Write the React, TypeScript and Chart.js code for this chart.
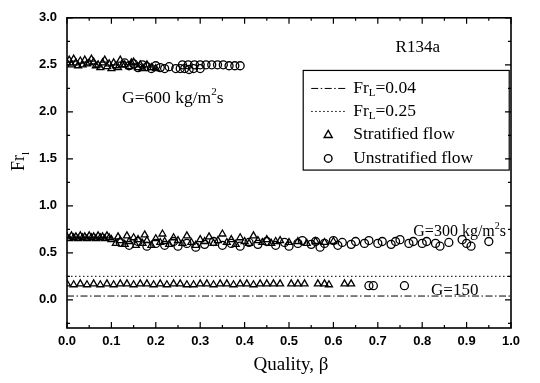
import React, { useEffect, useRef } from "react";
import { Chart, registerables } from "chart.js";
Chart.register(...registerables);

const xTicks = [0, 0.1, 0.2, 0.3, 0.4, 0.5, 0.6, 0.7, 0.8, 0.9, 1.0];
const yTicks = [0, 0.5, 1.0, 1.5, 2.0, 2.5, 3.0];
const frL1 = 0.04;
const frL2 = 0.25;

const g600Stratified = [
  [0.0, 2.52], [0.005, 2.55], [0.01, 2.5], [0.015, 2.56], [0.02, 2.52], [0.025, 2.49], [0.03, 2.54], [0.035, 2.5],
  [0.04, 2.55], [0.045, 2.51], [0.05, 2.52], [0.055, 2.56], [0.06, 2.53], [0.065, 2.49], [0.07, 2.5], [0.075, 2.47], [0.08, 2.52], [0.085, 2.55],
  [0.09, 2.48], [0.095, 2.51], [0.1, 2.46], [0.105, 2.52], [0.11, 2.49], [0.115, 2.47], [0.12, 2.55], [0.125, 2.5], [0.13, 2.5], [0.14, 2.48],
  [0.145, 2.52], [0.15, 2.53], [0.16, 2.47], [0.165, 2.5], [0.17, 2.46], [0.18, 2.5], [0.19, 2.47], [0.2, 2.46],
];
const g600Unstratified = [
  [0.13, 2.52], [0.14, 2.49], [0.15, 2.51], [0.16, 2.47], [0.17, 2.5], [0.18, 2.48], [0.19, 2.46],
  [0.2, 2.49], [0.21, 2.47], [0.22, 2.46], [0.23, 2.48], [0.245, 2.46], [0.255, 2.46], [0.265, 2.46],
  [0.275, 2.45], [0.285, 2.46], [0.3, 2.46], [0.26, 2.5], [0.273, 2.5], [0.287, 2.5], [0.3, 2.5],
  [0.313, 2.5], [0.326, 2.5], [0.339, 2.5], [0.352, 2.5], [0.365, 2.49], [0.378, 2.49], [0.39, 2.49],
];
const g300Stratified = [
  [0.0, 0.67], [0.005, 0.65], [0.01, 0.68], [0.015, 0.66], [0.02, 0.67], [0.025, 0.65], [0.03, 0.68],
  [0.035, 0.66], [0.04, 0.67], [0.045, 0.65], [0.05, 0.68], [0.055, 0.66], [0.06, 0.67], [0.065, 0.65],
  [0.07, 0.68], [0.075, 0.66], [0.08, 0.67], [0.085, 0.65], [0.09, 0.68], [0.095, 0.66], [0.1, 0.64],
  [0.11, 0.6], [0.115, 0.67], [0.12, 0.63], [0.13, 0.59], [0.135, 0.68], [0.14, 0.62], [0.15, 0.66],
  [0.155, 0.58], [0.16, 0.64], [0.17, 0.6], [0.175, 0.69], [0.18, 0.63], [0.19, 0.58], [0.2, 0.65],
  [0.21, 0.61], [0.215, 0.7], [0.22, 0.62], [0.23, 0.59], [0.24, 0.66], [0.25, 0.63], [0.26, 0.6],
  [0.27, 0.68], [0.28, 0.61], [0.29, 0.58], [0.3, 0.64], [0.31, 0.62], [0.32, 0.67], [0.33, 0.6],
  [0.34, 0.63], [0.35, 0.7], [0.36, 0.61], [0.37, 0.64], [0.38, 0.59], [0.39, 0.66], [0.4, 0.62],
  [0.41, 0.6], [0.42, 0.68], [0.43, 0.63], [0.44, 0.61], [0.45, 0.64], [0.46, 0.6], [0.47, 0.62],
  [0.48, 0.63], [0.5, 0.61], [0.52, 0.62], [0.54, 0.6], [0.56, 0.62], [0.58, 0.61], [0.6, 0.62],
];
const g300Unstratified = [
  [0.12, 0.61], [0.14, 0.58], [0.16, 0.62], [0.18, 0.57], [0.2, 0.6], [0.22, 0.58], [0.24, 0.62],
  [0.25, 0.57], [0.27, 0.6], [0.29, 0.56], [0.31, 0.59], [0.33, 0.62], [0.35, 0.58], [0.37, 0.6],
  [0.39, 0.57], [0.41, 0.61], [0.43, 0.59], [0.45, 0.62], [0.47, 0.58], [0.49, 0.61], [0.5, 0.57],
  [0.52, 0.6], [0.53, 0.63], [0.55, 0.59], [0.56, 0.62], [0.57, 0.56], [0.58, 0.6], [0.6, 0.63],
  [0.61, 0.58], [0.62, 0.61], [0.64, 0.59], [0.65, 0.62], [0.67, 0.6], [0.68, 0.63], [0.7, 0.6],
  [0.71, 0.62], [0.73, 0.59], [0.74, 0.62], [0.75, 0.64], [0.77, 0.6], [0.78, 0.62], [0.8, 0.6],
  [0.81, 0.62], [0.83, 0.6], [0.84, 0.57], [0.86, 0.61], [0.89, 0.64], [0.9, 0.6], [0.91, 0.57],
  [0.95, 0.62],
];
const g150Stratified = [
  [0.0, 0.17], [0.015, 0.16], [0.03, 0.17], [0.045, 0.16], [0.06, 0.17], [0.075, 0.16], [0.09, 0.17],
  [0.105, 0.16], [0.12, 0.17], [0.135, 0.17], [0.15, 0.16], [0.165, 0.17], [0.18, 0.17], [0.195, 0.16],
  [0.21, 0.17], [0.225, 0.16], [0.24, 0.17], [0.255, 0.17], [0.27, 0.16], [0.285, 0.16], [0.3, 0.17],
  [0.315, 0.17], [0.33, 0.16], [0.345, 0.17], [0.36, 0.17], [0.375, 0.16], [0.39, 0.17], [0.405, 0.17],
  [0.42, 0.16], [0.435, 0.17], [0.45, 0.17], [0.465, 0.17], [0.48, 0.17], [0.505, 0.17], [0.52, 0.17],
  [0.535, 0.17], [0.565, 0.17], [0.58, 0.17], [0.59, 0.16], [0.625, 0.17], [0.64, 0.17],
];
const g150Unstratified = [[0.68, 0.15], [0.69, 0.15], [0.76, 0.15]];

const toPts = (arr: number[][]) => arr.map(([x, y]) => ({ x, y }));

const serif = "'Liberation Serif', 'Times New Roman', serif";
const sans = "'Liberation Sans', Arial, sans-serif";

function drawSub(ctx: CanvasRenderingContext2D, x: number, y: number, main: string, sub: string, rest: string, size: number) {
  ctx.font = `${size}px ${serif}`;
  ctx.fillText(main, x, y);
  let w = ctx.measureText(main).width;
  ctx.font = `${Math.round(size * 0.62)}px ${serif}`;
  ctx.fillText(sub, x + w, y + size * 0.28);
  w += ctx.measureText(sub).width;
  ctx.font = `${size}px ${serif}`;
  ctx.fillText(rest, x + w, y);
}

const decorPlugin = {
  id: "decor",
  afterDraw(chart: any) {
    const { ctx, chartArea: a, scales } = chart;
    const xs = scales.x;
    const ys = scales.y;
    ctx.save();
    ctx.strokeStyle = "#000";
    ctx.fillStyle = "#000";
    ctx.lineWidth = 1.6;
    ctx.strokeRect(a.left, a.top, a.right - a.left, a.bottom - a.top);
    ctx.lineWidth = 1.2;
    ctx.beginPath();
    for (let i = 0; i <= 20; i++) {
      const v = i * 0.05;
      const px = xs.getPixelForValue(v);
      const len = i % 2 === 0 ? 6 : 3;
      ctx.moveTo(px, a.bottom); ctx.lineTo(px, a.bottom - len);
      ctx.moveTo(px, a.top); ctx.lineTo(px, a.top + len);
    }
    for (let i = -1; i <= 12; i++) {
      const v = i * 0.25;
      const py = ys.getPixelForValue(v);
      const len = i % 2 === 0 ? 6 : 3;
      ctx.moveTo(a.left, py); ctx.lineTo(a.left + len, py);
      ctx.moveTo(a.right, py); ctx.lineTo(a.right - len, py);
    }
    ctx.stroke();

    ctx.textBaseline = "alphabetic";
    ctx.textAlign = "left";
    const ann = (x: number, y: number, t: string, sup: string, t2: string, size: number) => {
      const px = xs.getPixelForValue(x);
      const py = ys.getPixelForValue(y);
      ctx.font = `${size}px ${serif}`;
      ctx.fillText(t, px, py);
      let w = ctx.measureText(t).width;
      if (sup) {
        ctx.font = `${Math.round(size * 0.6)}px ${serif}`;
        ctx.fillText(sup, px + w, py - size * 0.45);
        w += ctx.measureText(sup).width;
        ctx.font = `${size}px ${serif}`;
        ctx.fillText(t2, px + w, py);
      }
    };
    ann(0.124, 2.09, "G=600 kg/m", "2", "s", 17.5);
    ann(0.78, 0.68, "G=300 kg/m", "2", "s", 16);
    ann(0.82, 0.05, "G=150", "", "", 17);

    ctx.font = `17px ${serif}`;
    ctx.textAlign = "center";
    ctx.fillText("R134a", xs.getPixelForValue(0.79), ys.getPixelForValue(2.64));

    const bx = xs.getPixelForValue(0.532);
    const bw = xs.getPixelForValue(0.996) - bx;
    const by = ys.getPixelForValue(2.44);
    const bh = ys.getPixelForValue(1.38) - by;
    ctx.lineWidth = 1.2;
    ctx.strokeRect(bx, by, bw, bh);
    const rows = [by + 18, by + 41, by + 64, by + 88];
    const sx0 = bx + 8, sx1 = bx + 42, tx = bx + 50;
    ctx.lineWidth = 1;
    ctx.setLineDash([7, 2.5, 1.5, 2.5]);
    ctx.beginPath(); ctx.moveTo(sx0, rows[0]); ctx.lineTo(sx1, rows[0]); ctx.stroke();
    ctx.setLineDash([1.5, 2.5]);
    ctx.beginPath(); ctx.moveTo(sx0, rows[1]); ctx.lineTo(sx1, rows[1]); ctx.stroke();
    ctx.setLineDash([]);
    const mx = (sx0 + sx1) / 2;
    ctx.lineWidth = 1.4;
    ctx.beginPath();
    ctx.moveTo(mx, rows[2] - 4); ctx.lineTo(mx + 4, rows[2] + 3); ctx.lineTo(mx - 4, rows[2] + 3); ctx.closePath();
    ctx.stroke();
    ctx.beginPath(); ctx.arc(mx, rows[3], 3.8, 0, Math.PI * 2); ctx.stroke();
    ctx.textAlign = "left";
    ctx.textBaseline = "middle";
    drawSub(ctx, tx, rows[0], "Fr", "L", "=0.04", 17.5);
    drawSub(ctx, tx, rows[1], "Fr", "L", "=0.25", 17.5);
    ctx.font = `17.5px ${serif}`;
    ctx.fillText("Stratified flow", tx, rows[2]);
    ctx.fillText("Unstratified flow", tx, rows[3]);

    ctx.textAlign = "center";
    ctx.textBaseline = "alphabetic";
    ctx.font = `19px ${serif}`;
    ctx.fillText("Quality, \u03b2", 291, 370);
    ctx.save();
    ctx.translate(24, 171);
    ctx.rotate(-Math.PI / 2);
    ctx.textAlign = "left";
    drawSub(ctx, 0, 0, "Fr", "l", "", 18);
    ctx.restore();
    ctx.restore();
  },
};

export default function App() {
  const ref = useRef<HTMLCanvasElement | null>(null);
  useEffect(() => {
    document.body.style.margin = "0";
    const canvas = ref.current!;
    const markerStyle = {
      showLine: false,
      borderColor: "#000",
      backgroundColor: "rgba(0,0,0,0)",
      borderWidth: 1.3,
      pointRadius: 4,
    };
    const chart = new Chart(canvas, {
      type: "scatter",
      data: {
        datasets: [
          { label: "Fr_L=0.04", type: "line", data: [{ x: 0, y: frL1 }, { x: 1, y: frL1 }], borderColor: "#000", borderWidth: 1, borderDash: [7, 2.5, 1.5, 2.5], pointRadius: 0 },
          { label: "Fr_L=0.25", type: "line", data: [{ x: 0, y: frL2 }, { x: 1, y: frL2 }], borderColor: "#000", borderWidth: 1, borderDash: [1.5, 2.5], pointRadius: 0 },
          { label: "G600 stratified", data: toPts(g600Stratified), pointStyle: "triangle", ...markerStyle },
          { label: "G600 unstratified", data: toPts(g600Unstratified), pointStyle: "circle", ...markerStyle },
          { label: "G300 stratified", data: toPts(g300Stratified), pointStyle: "triangle", ...markerStyle },
          { label: "G300 unstratified", data: toPts(g300Unstratified), pointStyle: "circle", ...markerStyle },
          { label: "G150 stratified", data: toPts(g150Stratified), pointStyle: "triangle", ...markerStyle },
          { label: "G150 unstratified", data: toPts(g150Unstratified), pointStyle: "circle", ...markerStyle },
        ] as any,
      },
      options: {
        responsive: false,
        animation: false,
        layout: { padding: { top: 17, right: 29, left: 0, bottom: 0 } },
        plugins: { legend: { display: false }, tooltip: { enabled: false } },
        scales: {
          x: {
            type: "linear",
            min: 0,
            max: 1,
            afterBuildTicks: (s: any) => { s.ticks = xTicks.map((v) => ({ value: v })); },
            afterFit: (s: any) => { s.height = 55; },
            ticks: { font: { family: sans, weight: "bold", size: 13 }, color: "#000", padding: 6, maxRotation: 0, autoSkip: false, callback: (v: any) => Number(v).toFixed(1) },
            grid: { display: false, drawTicks: false },
            border: { display: false },
          },
          y: {
            type: "linear",
            min: -0.3,
            max: 3.0,
            afterBuildTicks: (s: any) => { s.ticks = yTicks.map((v) => ({ value: v })); },
            afterFit: (s: any) => { s.width = 67; },
            ticks: { font: { family: sans, weight: "bold", size: 13 }, color: "#000", padding: 10, autoSkip: false, callback: (v: any) => Number(v).toFixed(1) },
            grid: { display: false, drawTicks: false },
            border: { display: false },
          },
        },
      } as any,
      plugins: [decorPlugin],
    });
    return () => chart.destroy();
  }, []);
  return (
    <div style={{ width: 540, height: 383, background: "#fff" }}>
      <canvas ref={ref} width={540} height={383} style={{ display: "block" }} />
    </div>
  );
}
